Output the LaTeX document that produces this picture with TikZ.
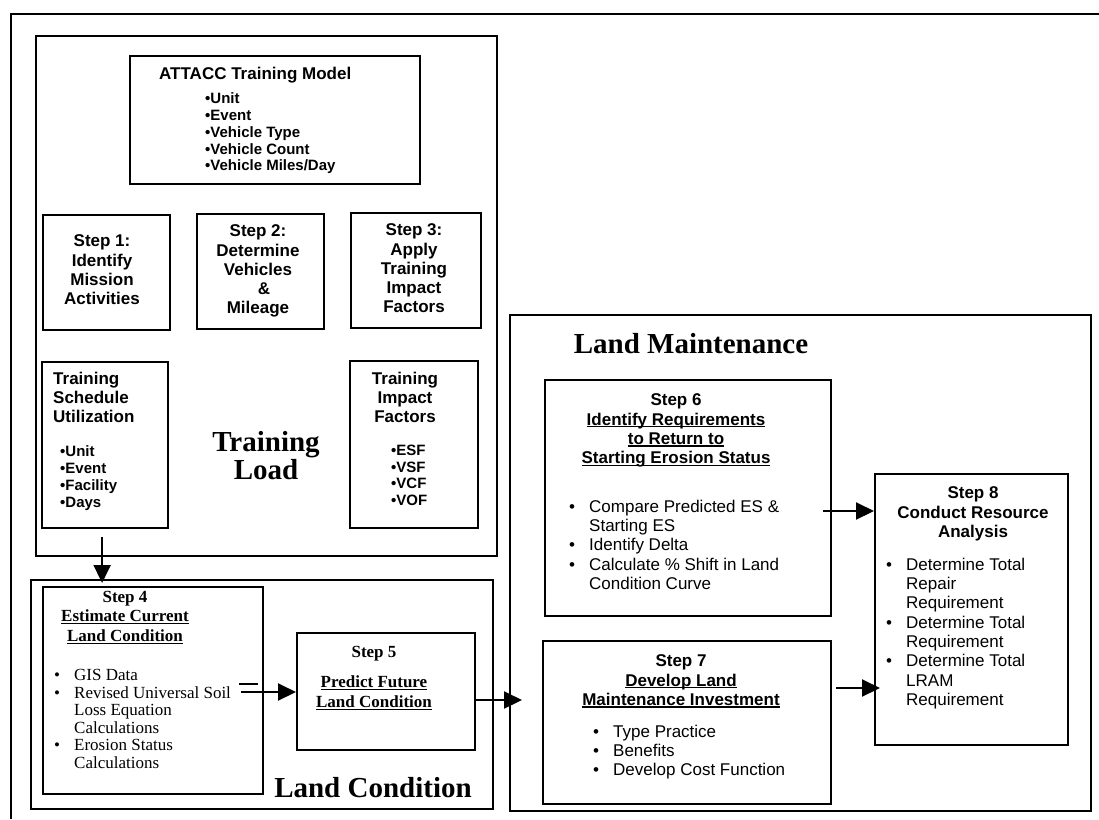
\documentclass[tikz,border=0pt]{standalone}
\usepackage{fontspec}
\setmainfont{Liberation Serif}
\setsansfont{Liberation Sans}
\usetikzlibrary{arrows.meta}
\newcommand\undl[1]{\setbox0\hbox{#1}\rlap{\rule[-2.4pt]{\wd0}{1.3pt}}\box0}
\newcommand\bl{\makebox[20pt][l]{•}}
\newcommand\ind{\makebox[20pt]{}}
\newcommand\fsb{\fontsize{17}{19.3}\selectfont\sffamily\bfseries}
\newcommand\fsbs{\fontsize{15}{16.8}\selectfont\sffamily\bfseries}
\newcommand\fsr{\fontsize{17}{19.3}\selectfont\sffamily}
\newcommand\frb{\fontsize{17}{19.5}\selectfont\rmfamily\bfseries}
\newcommand\frr{\fontsize{17}{17.6}\selectfont\rmfamily}
\newcommand\fbig{\fontsize{29}{28}\selectfont\rmfamily\bfseries}
\newcommand\mkbox[5]{\node[box, anchor=north west, minimum width={(#4-#2)*1pt}, minimum height={(#5-#3)*1pt}] (#1) at (#2,#3) {};}
\begin{document}
\begin{tikzpicture}[x=1pt,y=-1pt,
  box/.style={draw, line width=2.2pt, inner sep=0pt, rectangle},
  txt/.style={inner sep=0pt},
  arr/.style={line width=2pt, -{Triangle[length=18pt,width=17pt]}},
  thinline/.style={line width=1.6pt}]
\useasboundingbox (0,0) rectangle (1099,819);
\fill[white] (0,0) rectangle (1099,819);
\draw[line width=2.4pt] (11,819) -- (11,14) -- (1099,14);

% boxes
\mkbox{tl}{35}{35}{496}{555}
\mkbox{attacc}{129}{55}{419}{183}
\mkbox{s1}{42}{214}{169}{329}
\mkbox{s2}{196}{213}{323}{328}
\mkbox{s3}{350}{212}{480}{327}
\mkbox{tsch}{41}{361}{167}{527}
\mkbox{timp}{349}{360}{477}{527}
\mkbox{lc}{30}{579}{492}{808}
\mkbox{s4}{42}{586}{262}{793}
\mkbox{s5}{296}{632}{474}{749}
\mkbox{lm}{509}{314}{1090}{810}
\mkbox{s6}{544}{379}{830}{615}
\mkbox{s7}{542}{640}{830}{803}
\mkbox{s8}{874}{473}{1067}{744}

% Training load texts
\node[txt, font=\fsb, anchor=base west] (attt) at (159,79) {ATTACC Training Model};
\node[txt, font=\fsbs, anchor=north west, align=left] (attb) at (205,92.6) {•Unit\\•Event\\•Vehicle Type\\•Vehicle Count\\•Vehicle Miles/Day};
\node[txt, font=\fsb, anchor=north, align=center] (s1t) at (102,234.7) {Step 1:\\Identify\\Mission\\Activities};
\node[txt, font=\fsb, anchor=north, align=center] (s2t) at (258,224.7) {Step 2:\\Determine\\Vehicles\\\hspace*{12pt}\&\\Mileage};
\node[txt, font=\fsb, anchor=north, align=center] (s3t) at (414,223.7) {Step 3:\\Apply\\Training\\Impact\\Factors};
\node[txt, font=\fsb, anchor=north west, align=left] (tscht) at (53,371.7) {Training\\Schedule\\Utilization};
\node[txt, font=\fsbs, anchor=north west, align=left] (tschb) at (60,445.6) {•Unit\\•Event\\•Facility\\•Days};
\node[txt, font=\fsb, anchor=north, align=center] (timpt) at (405,371.7) {Training\\Impact\\Factors};
\node[txt, font=\fsbs, anchor=north west, align=left] (timpb) at (391,444.6) {•ESF\\•VSF\\•VCF\\•VOF};
\node[txt, font=\fbig, anchor=north, align=center] (tlt) at (266,431.6) {Training\\Load};

% Land condition texts
\node[txt, font=\frb, anchor=north, align=center] (s4t) at (125,591) {Step 4\\\undl{Estimate Current}\\\undl{Land Condition}};
\node[txt, font=\frr, anchor=north west, align=left] (s4b) at (54,669) {\bl GIS Data\\\bl Revised Universal Soil\\\ind Loss Equation\\\ind Calculations\\\bl Erosion Status\\\ind Calculations};
\node[txt, font=\frb, anchor=north, align=center] (s5t) at (374,646) {Step 5\\[11pt]\undl{Predict Future}\\\undl{Land Condition}};
\node[txt, font=\fbig, anchor=base] (lct) at (373,797) {Land Condition};

% Land maintenance texts
\node[txt, font=\fbig, anchor=base] (lmt) at (691,353) {Land Maintenance};
\node[txt, font=\fsb, anchor=north, align=center] (s6t) at (676,393.7) {Step 6\\\undl{Identify Requirements}\\\undl{to Return to}\\\undl{Starting Erosion Status}};
\node[txt, font=\fsr, anchor=north west, align=left] (s6b) at (569,499.7) {\bl Compare Predicted ES \&\\\ind Starting ES\\\bl Identify Delta\\\bl Calculate \% Shift in Land\\\ind Condition Curve};
\node[txt, font=\fsb, anchor=north, align=center] (s7t) at (681,654.7) {Step 7\\\undl{Develop Land}\\\undl{Maintenance Investment}};
\node[txt, font=\fsr, anchor=north west, align=left] (s7b) at (593,724.7) {\bl Type Practice\\\bl Benefits\\\bl Develop Cost Function};
\node[txt, font=\fsb, anchor=north, align=center] (s8t) at (973,486.7) {Step 8\\Conduct Resource\\Analysis};
\node[txt, font=\fsr, anchor=north west, align=left] (s8b) at (886,557.7) {\bl Determine Total\\\ind Repair\\\ind Requirement\\\bl Determine Total\\\ind Requirement\\\bl Determine Total\\\ind LRAM\\\ind Requirement};

% connectors
\draw[arr] ([xshift=-3pt,yshift=-8pt]tsch.south) -- ([xshift=-3pt,yshift=3pt]tsch.south |- s4.north);
\coordinate (a2u) at (239,684);
\coordinate (a2s) at (241,692);
\draw[thinline] (a2u) -- ++(19,0);
\draw[arr] (a2s) -- (a2s -| s5.west);
\coordinate (a3e) at (522,700);
\draw[arr] (a3e -| s5.east) -- (a3e);
\coordinate (a4s) at (823,511);
\draw[arr] (a4s) -- (a4s -| s8.west);
\coordinate (a5s) at (836,688);
\draw[arr] (a5s) -- ([xshift=6pt]a5s -| s8.west);
\end{tikzpicture}
\end{document}
